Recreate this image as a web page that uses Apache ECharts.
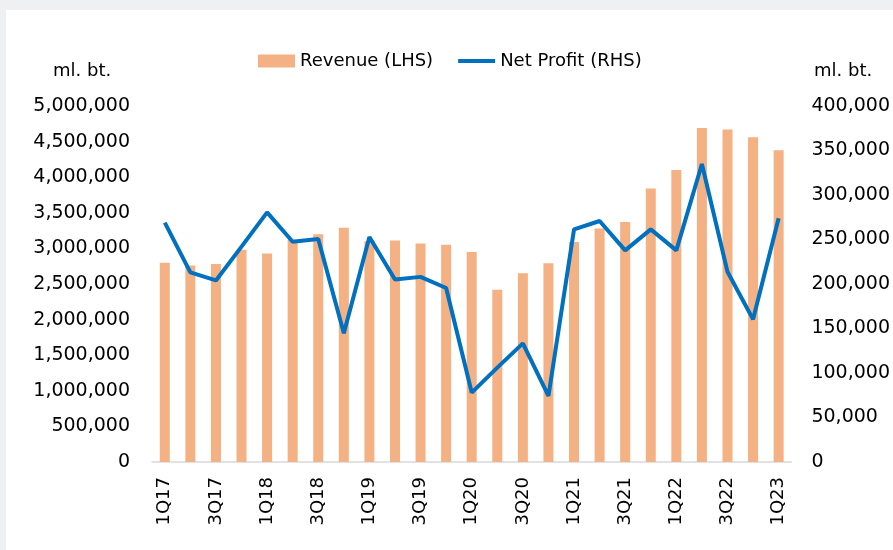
<!DOCTYPE html>
<html>
<head>
<meta charset="utf-8">
<script src="https://cdn.jsdelivr.net/npm/echarts@6/dist/echarts.min.js"></script>
<style>
html,body{margin:0;padding:0;background:#eef0f2;}
#panel{position:absolute;left:6px;top:10px;width:887px;height:540px;background:#fff;}
#main{position:absolute;left:0;top:0;width:893px;height:550px;}
</style>
</head>
<body>
<div id="panel"></div>
<div id="main"></div>
<script>
const categories = ['1Q17','2Q17','3Q17','4Q17','1Q18','2Q18','3Q18','4Q18','1Q19','2Q19','3Q19','4Q19','1Q20','2Q20','3Q20','4Q20','1Q21','2Q21','3Q21','4Q21','1Q22','2Q22','3Q22','4Q22','1Q23'];
const revenue = [2800000,2760000,2780000,2980000,2930000,3120000,3200000,3290000,3100000,3110000,3070000,3050000,2950000,2420000,2650000,2790000,3090000,3280000,3370000,3840000,4100000,4690000,4670000,4560000,4380000];
const netProfit = [269000,213000,204000,242000,280500,247500,250500,144600,252800,205000,208000,195500,78000,106000,133300,74200,261400,270800,237800,261400,237800,334800,213800,160300,273800];
const leftTicks = {min:0, max:5000000, interval:500000};
const rightTicks = {min:0, max:400000, interval:50000};

const fmt = v => v.toLocaleString('en-US');
const font = 'DejaVu Sans';
const chart = echarts.init(document.getElementById('main'));
chart.setOption({
  backgroundColor: 'transparent',
  animation: false,
  textStyle: {fontFamily: font},
  legend: {
    left: 253, top: 47,
    itemWidth: 37, itemHeight: 13, itemGap: 25,
    textStyle: {fontFamily: font, fontSize: 18, color: '#000'},
    data: [
      {name:'Revenue (LHS)', icon:'rect'},
      {name:'Net Profit (RHS)', icon:'path://M0,0 L35,0 L35,4 L0,4 Z', itemStyle:{color:'#0070C0'}}
    ]
  },
  graphic: [
    {type:'text', left: 53, top: 62, style:{text:'ml. bt.', font:'18px "DejaVu Sans"', fill:'#000'}},
    {type:'text', left: 814, top: 62, style:{text:'ml. bt.', font:'18px "DejaVu Sans"', fill:'#000'}}
  ],
  grid: {left: 152, right: 101, top: 106, bottom: 88, containLabel: false},
  xAxis: {
    type: 'category', data: categories,
    axisLine: {lineStyle: {color: '#d9d9d9', width: 1.5}},
    axisTick: {show: false},
    axisLabel: {rotate: 90, interval: 1, fontSize: 18, color: '#000', margin: 15, fontFamily: font}
  },
  yAxis: [
    {type:'value', min:leftTicks.min, max:leftTicks.max, interval:leftTicks.interval,
     axisLine:{show:false}, axisTick:{show:false}, splitLine:{show:false},
     axisLabel:{fontSize:19, color:'#000', margin:22, formatter: fmt, fontFamily: font}},
    {type:'value', min:rightTicks.min, max:rightTicks.max, interval:rightTicks.interval,
     axisLine:{show:false}, axisTick:{show:false}, splitLine:{show:false},
     axisLabel:{fontSize:19, color:'#000', margin:20, formatter: fmt, fontFamily: font}}
  ],
  series: [
    {name:'Revenue (LHS)', type:'bar', data: revenue, yAxisIndex:0, barWidth:10,
     itemStyle:{color:'#F4B183'}},
    {name:'Net Profit (RHS)', type:'line', data: netProfit, yAxisIndex:1, symbol:'none',
     lineStyle:{color:'#0070C0', width:4}, itemStyle:{color:'#0070C0'}}
  ]
});
</script>
</body>
</html>
